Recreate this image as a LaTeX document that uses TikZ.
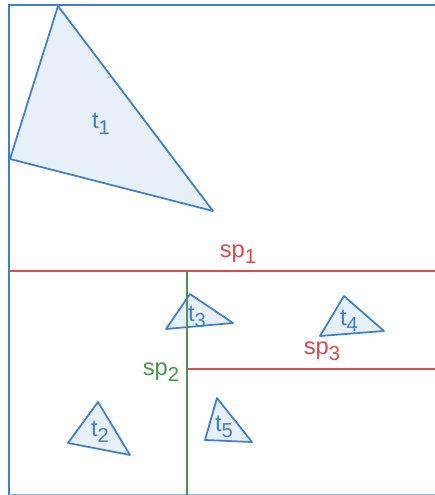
\documentclass[tikz,border=0pt]{standalone}
\usepackage{fontspec}
\setmainfont{Liberation Sans}
\definecolor{triblue}{HTML}{3F7FD0}
\definecolor{trifill}{HTML}{E7EFF9}
\definecolor{splitred}{HTML}{DB4A4A}
\definecolor{splitgreen}{HTML}{4E9250}
\newcommand{\subidx}[2]{#1\raisebox{-0.45ex}{\fontsize{11.5}{13}\selectfont #2}}
\tikzset{
  tri/.style={draw=triblue, fill=trifill, line width=1pt, line join=round},
  lbl/.style={font=\fontsize{13.5}{16}\selectfont, inner sep=0pt}
}
\begin{document}
\begin{tikzpicture}[x=0.02cm, y=-0.02cm]
  \useasboundingbox (0,0) rectangle (435,495);
  \begin{scope}
    \clip (0,0) rectangle (435,495);
    \draw[triblue, line width=1.5pt] (9,500) -- (9,5) -- (440,5);
    \draw[triblue!60, line width=1.5pt] (9,495) -- (440,495);
  \end{scope}
  % triangles
  \fill[tri] (58,6) -- (10,159) -- (213,211) -- cycle;
  \fill[tri] (98,402) -- (68,443) -- (130,455) -- cycle;
  \fill[tri] (190,294) -- (166,329) -- (233,323) -- cycle;
  \fill[tri] (344,296) -- (320,336) -- (384,331) -- cycle;
  \fill[tri] (217,398) -- (205,440) -- (252,442) -- cycle;
  % splitting lines
  \coordinate (sp1w) at (9,271);
  \coordinate (sp1e) at (435,271);
  \coordinate (sp2n) at (187,271);
  \coordinate (sp2s) at (187,495);
  \coordinate (sp3w) at (187,369);
  \coordinate (sp3e) at (435,369);
  \draw[splitred, line width=1.6pt] (sp1w) -- (sp1e);
  \draw[splitgreen, line width=1.6pt] (sp2n) -- (sp2s);
  \draw[splitred, line width=1.6pt] (sp3w) -- (sp3e);
  % labels
  \node[lbl, text=triblue] (t1) at (101,124) {\subidx{t}{1}};
  \node[lbl, text=triblue] (t2) at (100,432) {\subidx{t}{2}};
  \node[lbl, text=triblue] (t3) at (197,317) {\subidx{t}{3}};
  \node[lbl, text=triblue] (t4) at (349,321) {\subidx{t}{4}};
  \node[lbl, text=triblue] (t5) at (224,427) {\subidx{t}{5}};
  \node[lbl, text=splitred] (sp1) at (238,254) {\subidx{sp}{1}};
  \node[lbl, text=splitgreen] (sp2) at (161,372) {\subidx{sp}{2}};
  \node[lbl, text=splitred] (sp3) at (322,351) {\subidx{sp}{3}};
\end{tikzpicture}
\end{document}
